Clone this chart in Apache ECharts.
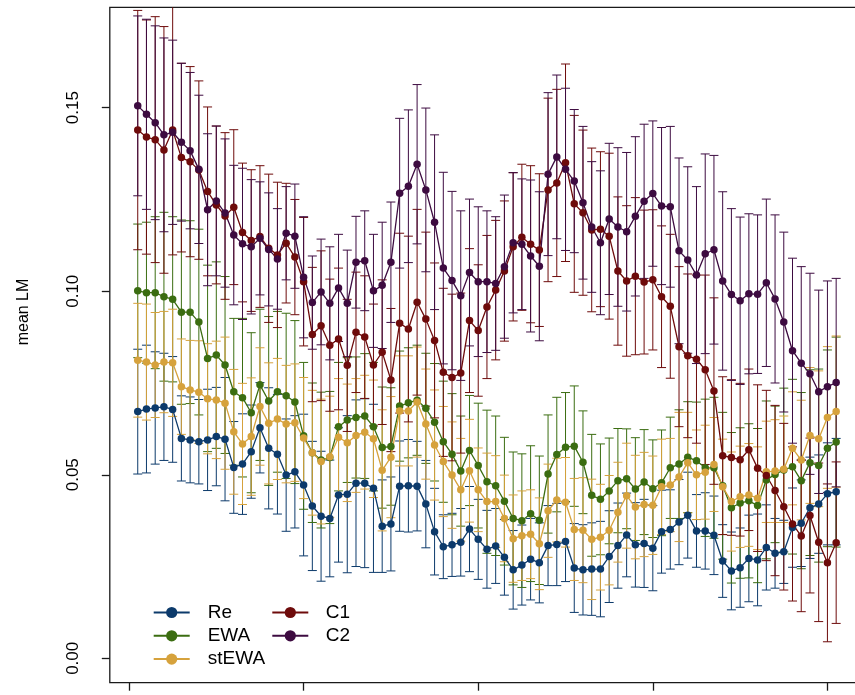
<!DOCTYPE html>
<html><head><meta charset="utf-8">
<script src="https://cdn.jsdelivr.net/npm/echarts@6/dist/echarts.min.js"></script>
<style>html,body{margin:0;padding:0;background:#fff}#c{width:855px;height:695px}</style>
</head><body><div id="c"></div>
<script>
// ---- data ----
const seriesNames = ['Re', 'EWA', 'stEWA', 'C1', 'C2'];
const seriesColors = ['#0c3a6b', '#3b6d11', '#d6a23c', '#6e0b0b', '#3d0b40'];

const reMean = [.0672,.0679,.0682,.0685,.0678,.0599,.0595,.0590,.0595,.0604,.0597,.0520,.0529,.0563,.0628,.0572,.0556,.0499,.0508,.0472,.0415,.0387,.0381,.0445,.0447,.0477,.0477,.0463,.0360,.0366,.0469,.0470,.0469,.0420,.0345,.0304,.0309,.0316,.0352,.0324,.0297,.0306,.0275,.0241,.0254,.0270,.0260,.0307,.0310,.0318,.0246,.0241,.0243,.0243,.0277,.0307,.0336,.0309,.0313,.0300,.0345,.0351,.0371,.0390,.0347,.0347,.0335,.0265,.0238,.0247,.0272,.0268,.0302,.0286,.0290,.0356,.0368,.0410,.0420,.0448,.0454];
const reErr = [.0170,.0174,.0153,.0146,.0144,.0116,.0117,.0115,.0138,.0134,.0168,.0125,.0137,.0127,.0123,.0165,.0163,.0153,.0153,.0193,.0176,.0177,.0159,.0183,.0214,.0227,.0230,.0229,.0126,.0128,.0123,.0126,.0122,.0119,.0118,.0087,.0086,.0092,.0116,.0109,.0106,.0102,.0103,.0107,.0109,.0111,.0109,.0109,.0112,.0109,.0121,.0123,.0126,.0130,.0125,.0116,.0114,.0115,.0120,.0116,.0113,.0108,.0116,.0117,.0099,.0104,.0107,.0099,.0106,.0108,.0118,.0125,.0116,.0095,.0086,.0108,.0118,.0138,.0134,.0139,.0145];

const ewaMean = [.1001,.0996,.0996,.0985,.0978,.0943,.0943,.0916,.0817,.0826,.0799,.0726,.0710,.0669,.0745,.0701,.0726,.0715,.0698,.0606,.0560,.0540,.0547,.0631,.0649,.0656,.0660,.0631,.0574,.0577,.0687,.0696,.0703,.0681,.0643,.0590,.0556,.0510,.0566,.0525,.0481,.0470,.0428,.0381,.0375,.0394,.0376,.0502,.0555,.0575,.0578,.0534,.0444,.0433,.0456,.0484,.0489,.0461,.0480,.0462,.0478,.0519,.0529,.0548,.0538,.0519,.0519,.0470,.0410,.0423,.0429,.0416,.0486,.0501,.0513,.0522,.0484,.0533,.0525,.0572,.0589];
const ewaErr = [.0182,.0192,.0207,.0230,.0225,.0251,.0249,.0253,.0254,.0254,.0241,.0200,.0216,.0218,.0206,.0230,.0219,.0225,.0222,.0200,.0190,.0185,.0180,.0175,.0170,.0165,.0170,.0175,.0165,.0160,.0150,.0150,.0150,.0150,.0160,.0165,.0165,.0150,.0150,.0170,.0195,.0190,.0174,.0181,.0182,.0185,.0175,.0161,.0156,.0149,.0164,.0140,.0166,.0151,.0144,.0142,.0136,.0140,.0143,.0133,.0144,.0138,.0148,.0151,.0160,.0187,.0192,.0200,.0205,.0205,.0210,.0210,.0215,.0186,.0223,.0238,.0240,.0253,.0263,.0268,.0286];

const stewaMean = [.0812,.0807,.0799,.0807,.0805,.0740,.0731,.0725,.0707,.0704,.0695,.0617,.0584,.0604,.0686,.0640,.0652,.0638,.0642,.0600,.0560,.0536,.0549,.0602,.0587,.0607,.0616,.0598,.0512,.0548,.0674,.0674,.0698,.0638,.0581,.0536,.0499,.0459,.0511,.0459,.0427,.0427,.0381,.0326,.0334,.0338,.0312,.0402,.0431,.0425,.0351,.0349,.0324,.0330,.0349,.0398,.0443,.0412,.0419,.0417,.0467,.0472,.0494,.0533,.0500,.0507,.0528,.0467,.0427,.0440,.0445,.0436,.0508,.0510,.0515,.0572,.0540,.0607,.0598,.0656,.0672];
const stewaErr = [.0155,.0158,.0143,.0138,.0146,.0130,.0135,.0140,.0150,.0160,.0180,.0170,.0165,.0160,.0160,.0165,.0165,.0160,.0160,.0165,.0170,.0170,.0165,.0160,.0160,.0155,.0155,.0160,.0165,.0165,.0150,.0150,.0150,.0150,.0150,.0150,.0145,.0140,.0140,.0114,.0132,.0125,.0118,.0119,.0122,.0121,.0125,.0127,.0114,.0122,.0139,.0143,.0164,.0144,.0149,.0136,.0143,.0141,.0142,.0134,.0130,.0127,.0176,.0137,.0122,.0128,.0128,.0130,.0135,.0138,.0140,.0140,.0138,.0140,.0145,.0154,.0163,.0185,.0185,.0193,.0206];

const c1Mean = [.1439,.1420,.1413,.1385,.1439,.1364,.1353,.1330,.1272,.1235,.1205,.1229,.1160,.1138,.1149,.1117,.1099,.1131,.1093,.1026,.0882,.0906,.0853,.0870,.0798,.0888,.0875,.0799,.0834,.0758,.0913,.0897,.0970,.0924,.0866,.0779,.0765,.0777,.0920,.0893,.0957,.1003,.1055,.1121,.1147,.1128,.1112,.1276,.1295,.1350,.1238,.1214,.1167,.1169,.1150,.1055,.1028,.1041,.1025,.1031,.0985,.0959,.0849,.0824,.0815,.0786,.0728,.0552,.0547,.0541,.0568,.0518,.0498,.0457,.0413,.0366,.0333,.0389,.0316,.0260,.0315];
const c1Err = [.0326,.0319,.0335,.0336,.0340,.0257,.0259,.0243,.0230,.0215,.0227,.0211,.0189,.0193,.0193,.0202,.0198,.0163,.0157,.0175,.0183,.0204,.0180,.0193,.0180,.0164,.0167,.0166,.0197,.0195,.0245,.0253,.0253,.0237,.0211,.0229,.0227,.0218,.0196,.0179,.0195,.0190,.0191,.0202,.0199,.0214,.0208,.0250,.0255,.0269,.0241,.0225,.0223,.0211,.0226,.0202,.0205,.0214,.0196,.0191,.0193,.0196,.0218,.0223,.0229,.0258,.0254,.0215,.0212,.0208,.0220,.0227,.0232,.0232,.0227,.0210,.0206,.0211,.0216,.0215,.0220];

const c2Mean = [.1505,.1482,.1459,.1426,.1433,.1406,.1383,.1332,.1222,.1246,.1213,.1153,.1129,.1121,.1144,.1114,.1088,.1158,.1150,.1038,.0969,.0998,.0967,.1009,.0967,.1079,.1083,.1001,.1016,.1079,.1267,.1286,.1346,.1276,.1188,.1063,.1029,.0988,.1051,.1026,.1026,.1021,.1067,.1132,.1128,.1096,.1068,.1319,.1366,.1332,.1300,.1241,.1175,.1132,.1197,.1175,.1162,.1204,.1245,.1266,.1232,.1230,.1110,.1085,.1044,.1102,.1113,.1028,.0991,.0974,.0993,.0992,.1023,.0979,.0916,.0838,.0804,.0775,.0726,.0740,.0751];
const c2Err = [.0245,.0259,.0264,.0264,.0251,.0215,.0213,.0202,.0207,.0204,.0202,.0190,.0206,.0183,.0154,.0154,.0137,.0127,.0142,.0165,.0127,.0144,.0154,.0146,.0145,.0125,.0136,.0154,.0172,.0164,.0204,.0208,.0217,.0223,.0238,.0261,.0243,.0231,.0200,.0204,.0193,.0182,.0195,.0191,.0178,.0207,.0203,.0222,.0223,.0221,.0195,.0208,.0178,.0196,.0206,.0216,.0216,.0217,.0210,.0198,.0214,.0219,.0253,.0254,.0241,.0272,.0257,.0243,.0234,.0228,.0218,.0216,.0228,.0229,.0245,.0252,.0263,.0274,.0277,.0288,.0284];

const xTicks = [0, 20, 40, 60, 80];
const yTicks = [0, 0.05, 0.10, 0.15];
const yTickLabels = ['0.00', '0.05', '0.10', '0.15'];
const yAxisTitle = 'mean LM';

// ---- chart ----
const means = [reMean, ewaMean, stewaMean, c1Mean, c2Mean];
const errs = [reErr, ewaErr, stewaErr, c1Err, c2Err];
const FONT = 'Liberation Sans, Arial, Helvetica, sans-serif';

function errSeries(k) {
  const color = seriesColors[k];
  return {
    type: 'custom', name: seriesNames[k] + ' err', silent: true, clip: true,
    encode: { x: 0, y: [1, 2] },
    data: means[k].map((m, i) => [i + 1, m - errs[k][i], m + errs[k][i]]),
    renderItem(params, api) {
      const x = api.value(0);
      const lo = api.coord([x, api.value(1)]);
      const hi = api.coord([x, api.value(2)]);
      const w = 4.5;
      const st = { stroke: color, lineWidth: 1 };
      return { type: 'group', children: [
        { type: 'line', shape: { x1: lo[0], y1: lo[1], x2: hi[0], y2: hi[1] }, style: st },
        { type: 'line', shape: { x1: lo[0] - w, y1: lo[1], x2: lo[0] + w, y2: lo[1] }, style: st },
        { type: 'line', shape: { x1: hi[0] - w, y1: hi[1], x2: hi[0] + w, y2: hi[1] }, style: st }
      ]};
    }
  };
}
function lineSeries(k) {
  return {
    type: 'line', name: seriesNames[k], clip: true,
    data: means[k].map((m, i) => [i + 1, m]),
    symbol: 'circle', symbolSize: 7.5, showSymbol: true,
    lineStyle: { color: seriesColors[k], width: 1.3 },
    itemStyle: { color: seriesColors[k] },
    emphasis: { disabled: true }
  };
}
const series = [];
for (let k = 0; k < 5; k++) { series.push(errSeries(k)); series.push(lineSeries(k)); }

const chart = echarts.init(document.getElementById('c'), null, { renderer: 'canvas' });
chart.setOption({
  animation: false,
  backgroundColor: '#ffffff',
  textStyle: { fontFamily: FONT },
  grid: { left: 109.8, top: 7.3, width: 754.3, height: 675.4, show: true,
          outerBoundsMode: 'none', containLabel: false,
          borderColor: '#1a1a1a', borderWidth: 1.3, backgroundColor: 'transparent' },
  xAxis: {
    type: 'value', min: -2.2, max: 84.2, position: 'bottom',
    axisLine: { show: false, onZero: false }, splitLine: { show: false },
    axisTick: { show: true, customValues: xTicks, length: 8, inside: false, lineStyle: { color: '#1a1a1a', width: 1.3 } },
    axisLabel: { show: false }
  },
  yAxis: {
    type: 'value', min: -0.00665, max: 0.17735, position: 'left',
    name: yAxisTitle, nameLocation: 'middle', nameGap: 78, nameRotate: 90,
    nameTextStyle: { fontSize: 16, color: '#000', fontFamily: FONT, padding: [0, 0, 0, 66] },
    axisLine: { show: false, onZero: false }, splitLine: { show: false },
    axisTick: { show: true, customValues: yTicks, length: 8, lineStyle: { color: '#1a1a1a', width: 1.3 } },
    axisLabel: { show: true, customValues: yTicks, rotate: 90, margin: 28, fontSize: 17, color: '#000', fontFamily: FONT,
      formatter: v => { const i = yTicks.findIndex(t => Math.abs(t - v) < 1e-9); return i >= 0 ? yTickLabels[i] : ''; } }
  },
  legend: [
    { data: seriesNames.slice(0, 3), orient: 'vertical', left: 152.7, top: 603, padding: 0,
      itemWidth: 36, itemHeight: 14, itemGap: 4.3, selectedMode: false,
      textStyle: { fontSize: 19, color: '#000', fontFamily: FONT, lineHeight: 19, padding: [0, 0, 0, 13] } },
    { data: seriesNames.slice(3), orient: 'vertical', left: 271.3, top: 603, padding: 0,
      itemWidth: 36, itemHeight: 14, itemGap: 4.3, selectedMode: false,
      textStyle: { fontSize: 19, color: '#000', fontFamily: FONT, lineHeight: 19, padding: [0, 0, 0, 12.5] } }
  ],
  series: series
});
</script>
</body></html>
